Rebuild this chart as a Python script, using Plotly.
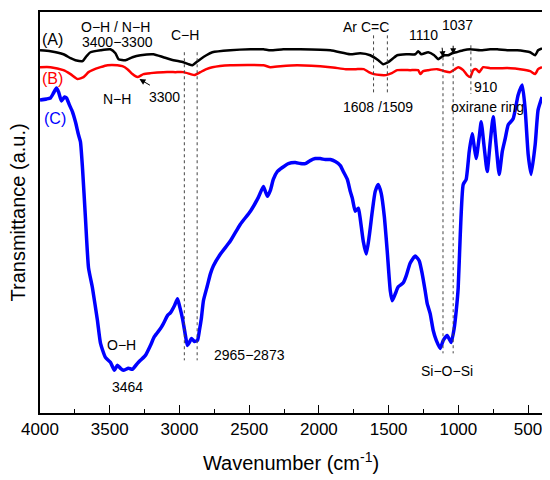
import plotly.graph_objects as go

# FTIR spectra, transmittance in arbitrary units (offset curves)
wn_a = [4000, 3925, 3832, 3781, 3746, 3695, 3667, 3638, 3566, 3495, 3459, 3437, 3387, 3337,
        3279, 3187, 3115, 3043, 2972, 2936, 2907, 2879, 2850, 2807, 2764, 2635, 2491, 2398,
        2348, 2255, 2133, 1918, 1775, 1703, 1632, 1574, 1539, 1503, 1438, 1374, 1309, 1288,
        1266, 1216, 1173, 1144, 1123, 1101, 1073, 1044, 1015, 965, 915, 843, 771, 721, 649,
        578, 521, 485, 449, 428, 400]
t_a = [365, 364, 361, 357, 355, 354, 359, 363, 365, 366, 362, 356, 355, 358,
       360, 361, 358, 355, 353, 351, 350, 353, 356, 360, 363, 365, 366, 366,
       365, 366, 366, 365, 361, 362, 360, 355, 351, 353, 360, 361, 361, 364,
       361, 363, 360, 356, 358, 360, 360, 362, 363, 365, 366, 365, 366, 366, 365,
       365, 364, 363, 360, 365, 367]

wn_b = [4000, 3925, 3832, 3781, 3731, 3688, 3652, 3624, 3566, 3516, 3445, 3409, 3373, 3337,
        3301, 3258, 3208, 3115, 3029, 2972, 2921, 2893, 2850, 2807, 2764, 2635, 2398, 2348,
        2276, 2155, 1918, 1807, 1735, 1678, 1642, 1606, 1556, 1520, 1477, 1438, 1345, 1288,
        1273, 1252, 1216, 1152, 1101, 1058, 1023, 1001, 965, 937, 915, 893, 872, 850, 822,
        771, 700, 628, 557, 485, 449, 428, 400]
t_b = [348, 348, 345, 341, 336, 338, 343, 345, 348, 350, 350, 349, 346, 341,
       338, 341, 342, 343, 343, 343, 341, 340, 343, 346, 348, 350, 350, 348,
       349, 350, 348, 346, 346, 346, 343, 341, 340, 340, 342, 345, 345, 345,
       341, 344, 345, 346, 344, 343, 346, 348, 345, 340, 338, 345, 346, 343, 348,
       347, 347, 347, 346, 344, 341, 346, 348]

wn_c = [4000, 3953, 3925, 3903, 3882, 3867, 3846, 3824, 3810, 3789, 3767, 3746, 3724, 3710,
        3695, 3674, 3652, 3624, 3588, 3566, 3531, 3495, 3466, 3445, 3423, 3402, 3366, 3337,
        3301, 3280, 3244, 3208, 3179, 3136, 3115, 3086, 3064, 3036, 3014, 3000, 2978, 2957,
        2943, 2929, 2914, 2893, 2871, 2857, 2843, 2828, 2800, 2778, 2757, 2706, 2635, 2563,
        2491, 2434, 2398, 2384, 2369, 2348, 2327, 2298, 2262, 2219, 2169, 2133, 2097, 2062,
        2026, 1990, 1954, 1918, 1882, 1846, 1825, 1796, 1775, 1760, 1739, 1717, 1703, 1682,
        1660, 1639, 1617, 1596, 1574, 1553, 1531, 1510, 1488, 1474, 1452, 1431, 1395, 1374,
        1345, 1309, 1280, 1259, 1238, 1223, 1202, 1180, 1158, 1130, 1108, 1080, 1051, 1030,
        1015, 1001, 986, 965, 944, 922, 901, 886, 872, 850, 836, 815, 793, 771, 750, 728,
        707, 685, 664, 642, 607, 571, 542, 521, 499, 478, 449, 428, 400]
t_c = [315, 316, 317, 322, 327, 323, 314, 318, 317, 310, 303, 293, 280, 273,
       246, 196, 146, 126, 93, 70, 56, 51, 43, 48, 45, 43, 45, 44,
       50, 53, 58, 68, 77, 85, 90, 98, 101, 108, 115, 108, 95, 78,
       68, 71, 75, 72, 73, 83, 95, 113, 128, 140, 148, 160, 173, 190,
       203, 217, 228, 223, 218, 224, 235, 243, 247, 251, 252, 251, 251, 254,
       256, 256, 255, 255, 253, 249, 243, 235, 223, 216, 203, 206, 195, 173,
       160, 178, 203, 223, 230, 221, 198, 163, 123, 113, 120, 127, 131, 138,
       151, 158, 153, 140, 123, 110, 100, 83, 73, 65, 73, 78, 71, 85,
       103, 126, 180, 230, 235, 263, 281, 268, 256, 278, 293, 268, 243, 273, 298, 268,
       240, 263, 276, 290, 296, 320, 330, 306, 260, 240, 270, 305, 318]

fig = go.Figure()
fig.add_trace(go.Scatter(x=wn_a, y=t_a, mode="lines", name="(A)",
                         line=dict(color="black", width=2.5, shape="spline", smoothing=0.5)))
fig.add_trace(go.Scatter(x=wn_b, y=t_b, mode="lines", name="(B)",
                         line=dict(color="#ff0000", width=2.5, shape="spline", smoothing=0.5)))
fig.add_trace(go.Scatter(x=wn_c, y=t_c, mode="lines", name="(C)",
                         line=dict(color="#0000ff", width=3.5, shape="spline", smoothing=0.5)))

# dotted marker lines (wavenumber, top, bottom)
guides = [(2965, 363, 53), (2873, 363, 53), (1608, 380, 320), (1509, 380, 320),
          (1110, 358, 60), (1037, 358, 60), (910, 370, 321)]
for g in guides:
    fig.add_shape(type="line", x0=g[0], x1=g[0], y0=g[1], y1=g[2], xref="x", yref="y",
                  line=dict(color="#444444", width=1, dash="dot"))

labels = [
    ("(A)", 3910, 376, "black"), ("(B)", 3910, 337, "#ff0000"), ("(C)", 3896, 296, "#0000ff"),
    ("O\u2212H / N\u2212H", 3459, 388, "black"), ("3400\u22123300", 3445, 373, "black"),
    ("C\u2212H", 2957, 380, "black"), ("N\u2212H", 3445, 316, "black"),
    ("3300", 3108, 318, "black"), ("Ar C=C", 1660, 388, "black"),
    ("1608 /1509", 1574, 308, "black"), ("1110", 1252, 380, "black"),
    ("1037", 1008, 390, "black"), ("910", 800, 328, "black"),
    ("oxirane ring", 793, 308, "black"), ("O\u2212H", 3416, 68, "black"),
    ("3464", 3373, 26, "black"), ("2965\u22122873", 2499, 58, "black"),
    ("Si\u2212O\u2212Si", 1080, 42, "black"),
]
for txt, x, y, c in labels:
    size = 16 if txt.startswith("(") else 14
    fig.add_annotation(x=x, y=y, text=txt, showarrow=False,
                       font=dict(color=c, size=size, family="Liberation Sans"))

# small arrows
fig.add_annotation(x=3287, y=336, ax=12, ay=7, showarrow=True, arrowhead=2, arrowsize=1.2,
                   arrowwidth=1, arrowcolor="black", text="")
fig.add_annotation(x=1110, y=358, ax=-1, ay=-11, showarrow=True, arrowhead=2, arrowsize=1.2,
                   arrowwidth=1, arrowcolor="black", text="")
fig.add_annotation(x=1037, y=361, ax=0, ay=-10, showarrow=True, arrowhead=2, arrowsize=1.2,
                   arrowwidth=1, arrowcolor="black", text="")

# y title as annotation so it can sit closer to the page edge
fig.add_annotation(xref="paper", yref="paper", x=0, y=0.5, xanchor="center", yanchor="middle",
                   xshift=-23, textangle=-90,
                   text="Transmittance (a.u.)", showarrow=False,
                   font=dict(size=20, family="Liberation Sans", color="black"))

# page body has an 8px margin, so the figure is sized to fit inside the window
fig.update_layout(
    width=542, height=472,
    margin=dict(l=32, r=8, t=2, b=67),
    plot_bgcolor="white", paper_bgcolor="white",
    showlegend=False,
    font=dict(family="Liberation Sans", color="black"),
    xaxis=dict(
        range=[4000, 400], tickmode="linear", tick0=500, dtick=500,
        ticks="inside", ticklen=8, tickwidth=1.2, tickcolor="black",
        minor=dict(ticks="inside", ticklen=4, tickcolor="black", dtick=250, tick0=250),
        showline=True, linecolor="black", linewidth=1.5, mirror=True,
        showgrid=False, zeroline=False, tickfont=dict(size=17),
        title=dict(text="Wavenumber (cm<sup>-1</sup>)", font=dict(size=20), standoff=18),
    ),
    yaxis=dict(
        range=[0, 403.5], showticklabels=False, ticks="",
        showline=True, linecolor="black", linewidth=1.5, mirror=True,
        showgrid=False, zeroline=False,
    ),
)

fig.write_html("out.html")
